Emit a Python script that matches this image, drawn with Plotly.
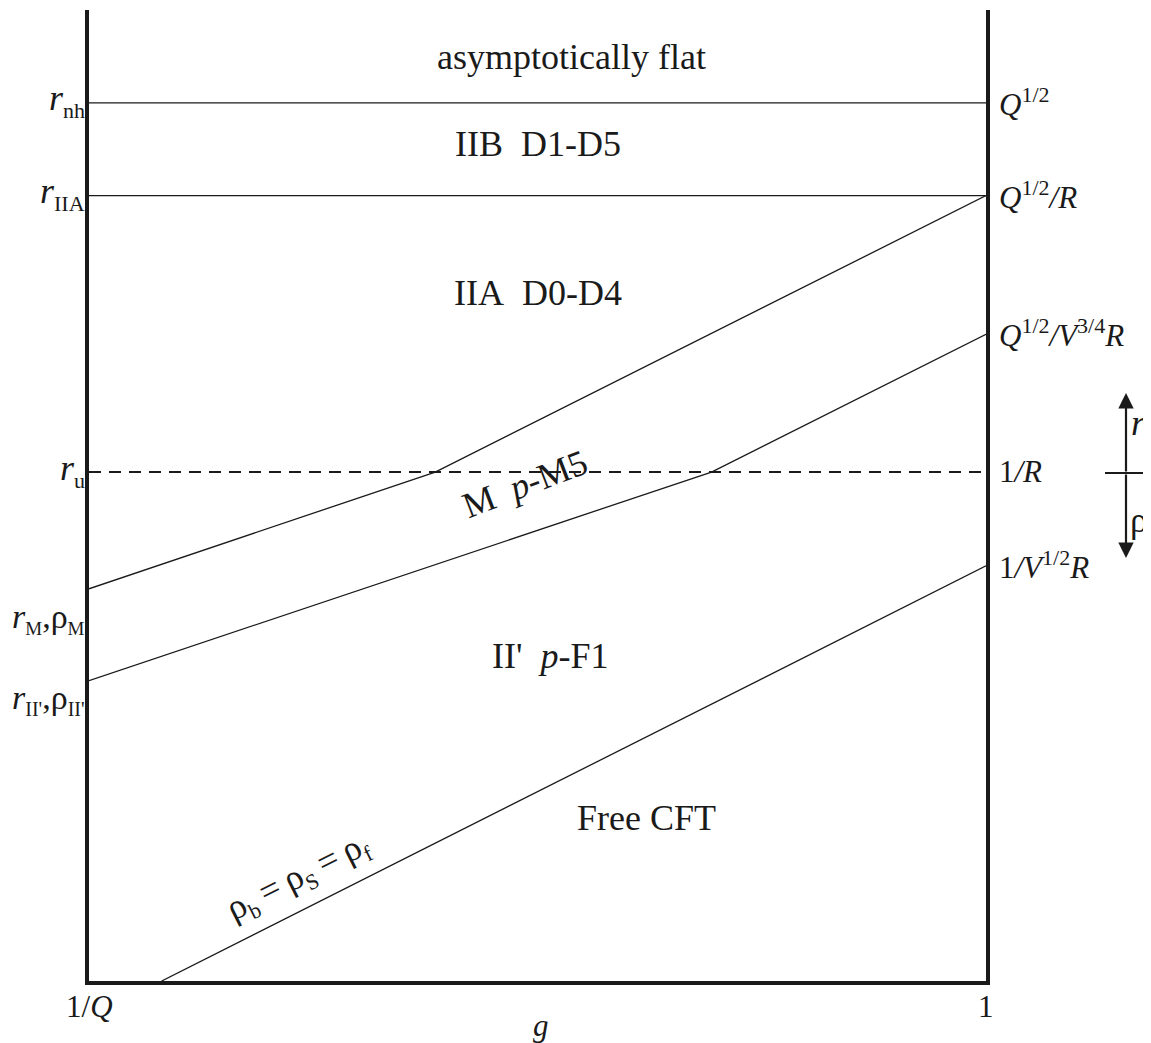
import plotly.graph_objects as go

# ---- data (g on x from 1/Q=0 to 1, r/rho scale on y) ----
g_ticks = [0.0, 1.0]
g_tick_labels = ["1/<i>Q</i>", "1"]

# horizontal scale levels
r_nh = 880
r_IIA = 787
r_u = 510

# boundary lines (piecewise linear)
line1_x = [0.0, 0.386, 1.0]
line1_y = [393, 510, 787]
line2_x = [0.0, 0.694, 1.0]
line2_y = [301, 510, 648]
line3_x = [0.081, 1.0]
line3_y = [0, 416]


def sub(s, size=22):
    return "<sub><span style='font-size:%dpx'>%s</span></sub>" % (size, s)


def sup(s, size=22):
    return "<sup><span style='font-size:%dpx'>%s</span></sup>" % (size, s)


left_levels = [880, 787, 510, 361, 280]
left_labels = ["<i>r</i>" + sub("nh"), "<i>r</i>" + sub("IIA"), "<i>r</i>" + sub("u"),
               "<i>r</i>" + sub("M", 19) + ",ρ" + sub("M", 19),
               "<i>r</i>" + sub("II'", 20) + ",ρ" + sub("II'", 20)]
left_sizes = [36, 36, 36, 34, 34]
right_levels = [880, 787, 648, 510, 416]
right_labels = ["<i>Q</i>" + sup("1/2"), "<i>Q</i>" + sup("1/2") + "<i>/R</i>",
                "<i>Q</i>" + sup("1/2") + "<i>/V</i>" + sup("3/4") + "<i>R</i>",
                "1<i>/R</i>", "1<i>/V</i>" + sup("1/2") + "<i>R</i>"]

region_labels = ["asymptotically flat", "IIB\u00a0\u00a0D1-D5", "IIA\u00a0\u00a0D0-D4",
                 "II'\u00a0\u00a0<i>p</i>-F1", "Free CFT"]
region_x = [0.538, 0.500, 0.500, 0.514, 0.622]
region_y = [926, 839, 689, 326, 163]

YMAX = 973
FONT = "Liberation Serif"
INK = "#1a1a1a"

fig = go.Figure()
thin = dict(color=INK, width=1.3)
fig.add_trace(go.Scatter(x=[0, 1], y=[r_nh, r_nh], mode="lines", line=thin, hoverinfo="skip"))
fig.add_trace(go.Scatter(x=[0, 1], y=[r_IIA, r_IIA], mode="lines", line=thin, hoverinfo="skip"))
fig.add_trace(go.Scatter(x=[0, 1], y=[r_u, r_u], mode="lines",
                         line=dict(color=INK, width=2, dash="12px,8px"), hoverinfo="skip"))
fig.add_trace(go.Scatter(x=line1_x, y=line1_y, mode="lines", line=thin, hoverinfo="skip"))
fig.add_trace(go.Scatter(x=line2_x, y=line2_y, mode="lines", line=thin, hoverinfo="skip"))
fig.add_trace(go.Scatter(x=line3_x, y=line3_y, mode="lines", line=thin, hoverinfo="skip"))

# plot area in page pixels: left 89, right 986, top 10, bottom 981
PL, PR, PT, PB = 89, 986, 10, 981


def px_x(px):
    return (px - PL) / (PR - PL)


def px_y(py):
    return (PB - py) / (PB - PT)


ann = []
fs = 36
fs_r = 31
for lv, lb, ls in zip(left_levels, left_labels, left_sizes):
    ann.append(dict(x=px_x(86), y=lv / YMAX, xref="paper", yref="paper", text=lb, showarrow=False,
                    xanchor="right", yanchor="middle", yshift=2, borderpad=0,
                    font=dict(family=FONT, size=ls, color=INK)))
for lv, lb in zip(right_levels, right_labels):
    ann.append(dict(x=px_x(997), y=lv / YMAX, xref="paper", yref="paper", text=lb, showarrow=False,
                    xanchor="left", yanchor="middle", yshift=1,
                    font=dict(family=FONT, size=fs_r, color=INK)))
for tx, ty, lb in zip(region_x, region_y, region_labels):
    ann.append(dict(x=tx, y=ty, xref="x", yref="y", text=lb, showarrow=False,
                    xanchor="center", yanchor="middle",
                    font=dict(family=FONT, size=fs, color=INK)))
# rotated labels
ann.append(dict(x=0.486, y=498, xref="x", yref="y", text="M\u00a0\u00a0<i>p</i>-M5",
                showarrow=False, textangle=-21, font=dict(family=FONT, size=fs, color=INK)))
ann.append(dict(x=0.234, y=104, xref="x", yref="y",
                text="ρ" + sub("b") + "\u2009=\u2009ρ" + sub("S") + "\u2009=\u2009ρ" + sub("f"),
                showarrow=False, textangle=-26.7, font=dict(family=FONT, size=fs, color=INK)))
# bottom tick labels
for gx, gl in zip(g_ticks, g_tick_labels):
    ann.append(dict(x=gx, y=px_y(1007), xref="paper", yref="paper", text=gl, showarrow=False,
                    xanchor="center", yanchor="middle", font=dict(family=FONT, size=fs_r, color=INK)))
ann.append(dict(x=px_x(541), y=px_y(1026), xref="paper", yref="paper", text="<i>g</i>", showarrow=False,
                xanchor="center", yanchor="middle", font=dict(family=FONT, size=fs_r, color=INK)))

# r / rho arrow at right
ax_x = px_x(1126)
mid = px_y(473)
ann.append(dict(x=ax_x, y=px_y(393), xref="paper", yref="paper", ax=0, ay=80,
                text="", showarrow=True, arrowhead=2, arrowsize=1.4, arrowwidth=2.2,
                arrowcolor=INK, standoff=0))
ann.append(dict(x=ax_x, y=px_y(558), xref="paper", yref="paper", ax=0, ay=-85,
                text="", showarrow=True, arrowhead=2, arrowsize=1.4, arrowwidth=2.2,
                arrowcolor=INK, standoff=0))
ann.append(dict(x=px_x(1129), y=px_y(423), xref="paper", yref="paper",
                text="<i>r</i>", showarrow=False, xanchor="left", yanchor="middle",
                font=dict(family=FONT, size=fs, color=INK)))
ann.append(dict(x=px_x(1128), y=px_y(520), xref="paper", yref="paper",
                text="ρ", showarrow=False, xanchor="left", yanchor="middle",
                font=dict(family=FONT, size=fs, color=INK)))

shapes = [dict(type="line", xref="paper", yref="paper", x0=px_x(1105), x1=1.3,
               y0=mid, y1=mid, line=dict(color=INK, width=2.2))]

fig.update_layout(
    width=1151, height=1043,
    margin=dict(l=PL - 8, r=1151 - (PR - 8), t=PT - 8, b=1043 - (PB - 8)),
    paper_bgcolor="white", plot_bgcolor="white",
    showlegend=False,
    xaxis=dict(range=[0, 1], showgrid=False, zeroline=False, showticklabels=False, ticks="",
               showline=True, linecolor=INK, linewidth=3.5, mirror=False),
    yaxis=dict(range=[0, YMAX], showgrid=False, zeroline=False, showticklabels=False, ticks="",
               showline=True, linecolor=INK, linewidth=3.5, mirror=True),
    annotations=ann, shapes=shapes,
)
fig.write_html("out.html")
